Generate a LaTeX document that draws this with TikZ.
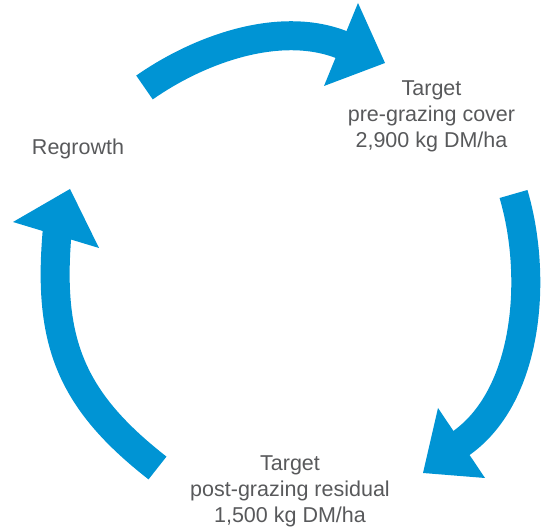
\documentclass[tikz,border=0pt]{standalone}
\usepackage{fontspec}
\setmainfont{Liberation Sans}
\definecolor{cycleblue}{RGB}{0,148,212}
\definecolor{labelgray}{RGB}{88,89,91}
\begin{document}
\begin{tikzpicture}[x=1pt,y=1pt,
  shaft/.style={draw=cycleblue, line width=29pt},
  headtri/.style={fill=cycleblue},
  lbl/.style={text=labelgray, font=\fontsize{21.5}{26}\selectfont, align=center, inner sep=0pt}]
\useasboundingbox (0,0) rectangle (555,529);

% labels
\node[lbl, anchor=north] (pre) at (431.5,448.8) {Target\\pre-grazing cover\\2,900 kg DM/ha};
\node[lbl, anchor=north] (post) at (290,73.1) {Target\\post-grazing residual\\1,500 kg DM/ha};
\node[lbl, anchor=base] (regrow) at (78,374) {Regrowth};

% top arrow: regrowth -> pre-grazing
\coordinate (t1) at (144.5,441.5);
\coordinate (h1) at (343.8,483.4);
\coordinate (a1) at (358,526);
\coordinate (b1) at (385,466);
\coordinate (c1) at (324,443);
\draw[shaft] (t1) to[out=35,in=157.5,looseness=0.85] (h1);
\fill[headtri] (a1) -- (b1) -- (c1) -- cycle;

% right arrow: pre-grazing -> post-grazing
\coordinate (t2) at (513.5,335);
\coordinate (h2) at (459,84.3);
\coordinate (a2) at (485,51);
\coordinate (b2) at (423,56);
\coordinate (c2) at (438,121);
\draw[shaft] (t2) to[out=-73.5,in=34,looseness=0.85] (h2);
\fill[headtri] (a2) -- (b2) -- (c2) -- cycle;

% left arrow: post-grazing -> regrowth
\coordinate (t3) at (157.5,61);
\coordinate (h3) at (57.2,297.8);
\coordinate (a3) at (13,307);
\coordinate (b3) at (70,340);
\coordinate (c3) at (99,281);
\draw[shaft] (t3) to[out=142,in=265,looseness=1.1] (h3);
\fill[headtri] (a3) -- (b3) -- (c3) -- cycle;
\end{tikzpicture}
\end{document}
